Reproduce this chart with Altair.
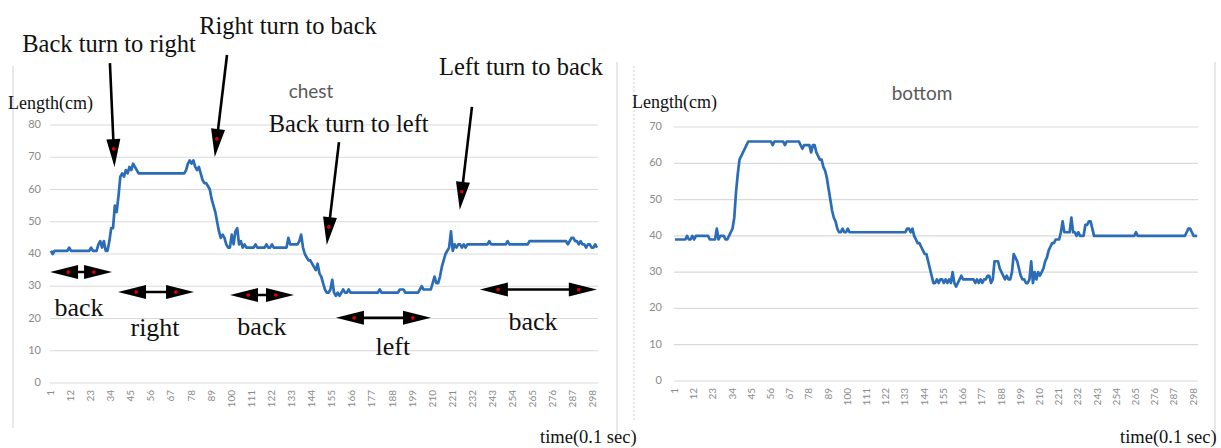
import altair as alt
import pandas as pd

# ---------------- data ----------------
# run-length pairs [value, count] for samples 1..300
CHEST_RUNS = [
    [41, 1], [40, 1], [41, 8], [42, 1], [41, 11], [42, 1], [41, 3], [43, 1], [44, 1], [42, 1],
    [44, 1], [41, 2], [44, 1], [48, 2], [55, 1], [53, 1], [58, 1], [64, 1], [65, 1], [64, 1],
    [66, 1], [65, 1], [67, 1], [66, 1], [68, 1], [67, 1], [66, 1], [65, 26],
    [66, 1], [68, 1], [69, 1], [68, 1], [69, 1], [67, 1], [66, 1], [67, 1], [65, 1], [63, 1],
    [62, 2], [61, 1], [60, 1], [57, 1], [55, 1], [53, 1], [50, 1], [47, 1], [45, 1], [46, 1],
    [45, 1], [43, 1], [42, 2], [46, 1], [43, 1], [47, 1], [48, 1], [43, 1], [44, 1], [42, 1],
    [43, 1], [42, 5], [43, 1], [42, 5], [43, 1], [42, 2], [43, 1], [42, 8], [45, 1], [43, 5],
    [44, 1], [46, 1], [42, 1], [40, 1], [39, 1], [38, 2], [37, 1], [36, 1], [35, 1], [37, 1],
    [34, 1], [33, 1], [31, 1], [29, 1], [28, 2], [29, 1], [32, 1], [28, 1], [27, 1], [28, 1],
    [27, 1], [28, 1], [29, 1], [28, 2], [29, 1], [28, 16], [29, 1], [28, 10], [29, 3], [28, 8],
    [29, 1], [30, 1], [29, 5], [31, 1], [33, 1], [31, 2], [33, 1], [36, 1], [38, 1], [40, 1],
    [41, 1], [42, 1], [47, 1], [41, 1], [43, 1], [42, 1], [43, 2], [42, 1], [43, 1], [42, 1],
    [43, 12], [44, 1], [43, 9], [44, 1], [43, 11], [44, 21], [43, 1], [44, 1], [45, 2], [44, 2],
    [43, 1], [44, 1], [43, 2], [42, 1], [43, 2], [42, 2], [43, 1], [42, 1],
]
BOTTOM_RUNS = [
    [39, 7], [40, 1], [39, 2], [40, 1], [39, 1], [40, 8], [39, 4], [42, 1], [39, 1], [40, 3],
    [39, 2], [40, 1], [41, 1], [42, 1], [45, 1], [52, 1], [57, 1], [61, 1], [62, 1], [63, 1],
    [64, 1], [65, 1], [66, 14], [65, 1], [66, 6], [65, 1], [66, 8], [65, 1], [64, 1], [65, 4],
    [63, 1], [65, 2], [63, 1], [62, 1], [61, 2], [59, 1], [58, 1], [56, 1], [53, 1], [50, 1],
    [47, 1], [45, 1], [44, 1], [42, 1], [41, 2], [42, 1], [41, 2], [42, 1], [41, 33], [42, 2],
    [41, 1], [42, 1], [40, 1], [39, 1], [38, 2], [37, 1], [36, 1], [35, 2], [33, 1], [31, 1],
    [29, 1], [27, 2], [28, 1], [27, 1], [28, 2], [27, 1], [28, 1], [27, 1], [28, 1], [27, 1],
    [30, 1], [27, 1], [26, 1], [27, 1], [28, 1], [29, 1], [28, 7], [27, 1], [28, 1], [27, 1],
    [28, 1], [27, 1], [28, 2], [29, 2], [27, 1], [28, 1], [33, 3], [31, 1], [30, 1], [29, 1],
    [28, 1], [29, 1], [28, 2], [30, 1], [35, 1], [34, 1], [33, 1], [31, 1], [29, 1], [28, 2],
    [27, 2], [28, 1], [33, 1], [27, 1], [30, 1], [28, 1], [30, 1], [29, 1], [30, 1], [31, 1],
    [33, 1], [34, 1], [36, 1], [37, 1], [38, 2], [39, 3], [41, 1], [44, 1], [41, 4], [45, 1],
    [41, 2], [40, 1], [41, 1], [40, 3], [43, 2], [44, 2], [42, 1], [40, 24], [41, 1], [40, 28],
    [41, 1], [42, 2], [41, 1], [40, 3],
]
X_TICKS = [1, 12, 23, 34, 45, 56, 67, 78, 89, 100, 111, 122, 133, 144, 155, 166, 177, 188,
           199, 210, 221, 232, 243, 254, 265, 276, 287, 298]
Y_TICKS_CHEST = [0, 10, 20, 30, 40, 50, 60, 70, 80]
Y_TICKS_BOTTOM = [0, 10, 20, 30, 40, 50, 60, 70]

# annotations of the chest panel (in chart data coordinates: sample, cm)
ANNOT_TEXT = ["Back turn to right", "Right turn to back", "Back turn to left", "Left turn to back"]
ANNOT_X = [32.8, 130.8, 164.0, 258.3]
ANNOT_Y = [104.8, 110.4, 80.0, 97.7]

PHASE_TEXT = ["back", "right", "back", "left", "back"]
PHASE_X = [16.4, 58.0, 116.5, 188.2, 264.9]
PHASE_Y = [23.3, 17.0, 17.4, 11.2, 18.9]

SHAFT_X1 = [33.3, 97.4, 158.7, 231.5, 8.2, 45.4, 106.7, 164.7, 243.5]
SHAFT_Y1 = [99.2, 101.7, 74.7, 85.6, 34.4, 28.2, 27.3, 20.2, 29.0]
SHAFT_X2 = [35.5, 91.6, 152.9, 225.7, 26.8, 71.7, 126.4, 201.4, 292.2]
SHAFT_Y2 = [71.3, 74.4, 47.1, 58.0, 34.4, 28.2, 27.3, 20.2, 29.0]

HEAD_X = [35.5, 91.6, 152.9, 225.7, 8.2, 26.8, 45.4, 71.7, 106.7, 126.4, 164.7, 201.4, 243.5, 292.2]
HEAD_Y = [71.3, 74.4, 47.1, 58.0, 34.4, 34.4, 28.2, 28.2, 27.3, 27.3, 20.2, 20.2, 29.0, 29.0]
HEAD_ANGLE = [357.5, 6.7, 6.6, 6.6, 90, 270, 90, 270, 90, 270, 90, 270, 90, 270]


def expand(runs):
    out = []
    for v, n in runs:
        out.extend([v] * n)
    return out


chest = expand(CHEST_RUNS)
bottom = expand(BOTTOM_RUNS)
chest_df = pd.DataFrame({"t": list(range(1, len(chest) + 1)), "v": chest})
bottom_df = pd.DataFrame({"t": list(range(1, len(bottom) + 1)), "v": bottom})

BLUE = "#2b6cb6"
GRID = "#d9d9d9"
TICK_COLOR = "#8a8a8a"
SERIF = "Liberation Serif"
SANS = "Lato"

HEAD_PATH = "M-0.5,-1L0.5,-1L0,1Z"
DOT_PATH = "M-0.13,-0.3A0.13,0.13 0 1,0 0.13,-0.3A0.13,0.13 0 1,0 -0.13,-0.3Z"

XL = alt.Scale(domain=[0.5, 300.5], range=[50, 598], nice=False, zero=False)
YL = alt.Scale(domain=[0, 80], range=[383, 125], nice=False, zero=False)
XR = alt.Scale(domain=[0.5, 300.5], range=[674, 1198], nice=False, zero=False)
YR = alt.Scale(domain=[0, 70], range=[381, 127], nice=False, zero=False)


def panel(df, xs, ys, yticks, xlab_top, ylab_right):
    grid = alt.Chart(pd.DataFrame({"g": yticks})).mark_rule(color=GRID, strokeWidth=1.2).encode(
        y=alt.Y("g:Q", scale=ys, axis=None),
        x=alt.XDatum(0.5, type="quantitative", scale=xs, axis=None),
        x2=alt.X2Datum(300.5),
    )
    line = alt.Chart(df).mark_line(color=BLUE, strokeWidth=2.7, strokeJoin="round").encode(
        x=alt.X("t:Q", scale=xs, axis=None),
        y=alt.Y("v:Q", scale=ys, axis=None),
    )
    # category (time) tick labels, rotated
    xlabels = alt.Chart(pd.DataFrame({"t": X_TICKS})).mark_text(
        font=SANS, fontSize=10, color=TICK_COLOR, angle=270, align="right", baseline="middle"
    ).encode(
        x=alt.X("t:Q", scale=xs, axis=None),
        y=alt.value(xlab_top),
        text=alt.Text("t:Q"),
    )
    ylabels = alt.Chart(pd.DataFrame({"g": yticks})).mark_text(
        font=SANS, fontSize=11, color=TICK_COLOR, align="right", baseline="middle"
    ).encode(
        y=alt.Y("g:Q", scale=ys, axis=None),
        x=alt.value(ylab_right),
        text=alt.Text("g:Q"),
    )
    return [grid, line, xlabels, ylabels]


left_base = panel(chest_df, XL, YL, Y_TICKS_CHEST, 390, 41)
right_base = panel(bottom_df, XR, YR, Y_TICKS_BOTTOM, 388, 662)

shaft_df = pd.DataFrame({"x1": SHAFT_X1, "y1": SHAFT_Y1, "x2": SHAFT_X2, "y2": SHAFT_Y2})
shafts = alt.Chart(shaft_df).mark_rule(color="black", strokeWidth=2.6).encode(
    x=alt.X("x1:Q", scale=XL, axis=None), y=alt.Y("y1:Q", scale=YL, axis=None),
    x2="x2:Q", y2="y2:Q",
)
head_df = pd.DataFrame({"x": HEAD_X, "y": HEAD_Y, "a": HEAD_ANGLE})
heads = alt.Chart(head_df).mark_point(shape=HEAD_PATH, filled=True, color="black", opacity=1,
                                      size=784, strokeWidth=0).encode(
    x=alt.X("x:Q", scale=XL, axis=None), y=alt.Y("y:Q", scale=YL, axis=None),
    angle=alt.Angle("a:Q", scale=None),
)
dots = alt.Chart(head_df).mark_point(shape=DOT_PATH, filled=True, color="#e00000", opacity=1,
                                     size=784, strokeWidth=0).encode(
    x=alt.X("x:Q", scale=XL, axis=None), y=alt.Y("y:Q", scale=YL, axis=None),
    angle=alt.Angle("a:Q", scale=None),
)
annot = alt.Chart(pd.DataFrame({"s": ANNOT_TEXT, "x": ANNOT_X, "y": ANNOT_Y})).mark_text(
    font=SERIF, fontSize=24.5, color="#111111", align="center", baseline="middle").encode(
    x=alt.X("x:Q", scale=XL, axis=None), y=alt.Y("y:Q", scale=YL, axis=None), text="s:N")
phases = alt.Chart(pd.DataFrame({"s": PHASE_TEXT, "x": PHASE_X, "y": PHASE_Y})).mark_text(
    font=SERIF, fontSize=26, color="#111111", align="center", baseline="middle").encode(
    x=alt.X("x:Q", scale=XL, axis=None), y=alt.Y("y:Q", scale=YL, axis=None), text="s:N")

one = alt.Data(values=[{"k": 1}])


def label(text, x, y, font, size, color, align="left"):
    return alt.Chart(one).mark_text(font=font, fontSize=size, color=color, align=align,
                                    baseline="middle").encode(
        x=alt.value(x), y=alt.value(y), text=alt.value(text))


def vline(x, y1, y2, dash=None):
    kw = {"color": GRID, "strokeWidth": 1.2}
    if dash:
        kw["strokeDash"] = dash
    return alt.Chart(one).mark_rule(**kw).encode(x=alt.value(x), y=alt.value(y1), y2=alt.value(y2))


deco = alt.layer(
    vline(13, 66, 428), vline(617, 62, 440), vline(634, 66, 420, [2, 2]), vline(1215, 62, 440),
    label("chest", 311, 92, SANS, 19, "#595959", "center"),
    label("bottom", 922, 94, SANS, 19, "#595959", "center"),
    label("Length(cm)", 8, 104, SERIF, 18, "#111111"),
    label("Length(cm)", 632, 103, SERIF, 18, "#111111"),
    label("time(0.1 sec)", 540, 437, SERIF, 18.5, "#111111"),
    label("time(0.1 sec)", 1120, 437, SERIF, 18.5, "#111111"),
)

left = alt.layer(*left_base, shafts, heads, dots, annot, phases)
right = alt.layer(*right_base)

chart = alt.layer(left, right, deco).resolve_scale(x="independent", y="independent").properties(
    width=1221, height=448, autosize=alt.AutoSizeParams(type="none"), padding=0,
    background="white",
).configure_view(stroke=None)

chart.save("out.html", embed_options={"renderer": "svg", "actions": False})
